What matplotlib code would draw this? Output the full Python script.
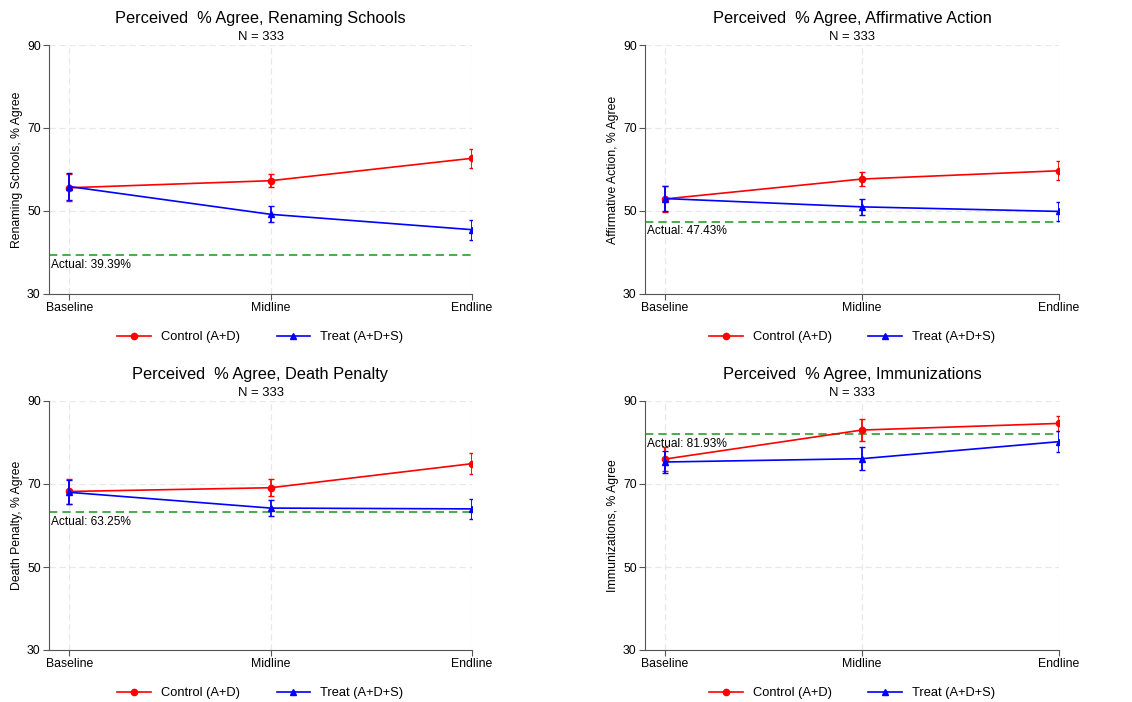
import matplotlib
matplotlib.use("Agg")
import matplotlib.pyplot as plt
from matplotlib.lines import Line2D

plt.rcParams['font.family'] = ['Liberation Sans', 'DejaVu Sans']

waves = ['Baseline', 'Midline', 'Endline']
topics = ['Renaming Schools', 'Affirmative Action', 'Death Penalty', 'Immunizations']
actual = [39.39, 47.43, 63.25, 81.93]

control_mean = [[55.6, 57.3, 62.7], [52.9, 57.7, 59.7], [68.2, 69.1, 74.9], [76.0, 83.0, 84.6]]
control_err  = [[3.2, 1.6, 2.3],    [3.2, 1.7, 2.3],    [2.9, 2.0, 2.6],    [2.8, 2.65, 1.8]]
treat_mean   = [[55.9, 49.2, 45.5], [53.0, 51.0, 49.9], [68.0, 64.2, 64.0], [75.3, 76.1, 80.2]]
treat_err    = [[3.3, 1.9, 2.4],    [3.1, 1.9, 2.3],    [2.9, 1.9, 2.4],    [2.7, 2.8, 2.5]]

N_OBS = 333

W, H = 1132, 702
# axes boxes in pixels: left, right, top, bottom
boxes = [(49, 472, 45, 294), (645, 1059, 45, 294),
         (49, 472, 401, 650), (645, 1059, 401, 650)]

fig = plt.figure(figsize=(W / 100, H / 100), dpi=100)

for i, topic in enumerate(topics):
    l, r, t, b = boxes[i]
    ax = fig.add_axes([l / W, (H - b) / H, (r - l) / W, (b - t) / H])
    x = range(len(waves))

    ax.errorbar(x, control_mean[i], yerr=control_err[i], color='red', marker='o',
                markersize=4.5, capsize=2.5, elinewidth=1.3, lw=1.2, zorder=3)
    ax.errorbar(x, treat_mean[i], yerr=treat_err[i], color='blue', marker='^',
                markersize=4.5, capsize=2.5, elinewidth=1.3, lw=1.2, zorder=4)

    ax.axhline(actual[i], color='#2ca02c', ls=(0, (5, 3)), lw=1.2, zorder=2)
    ax.text(-0.09, actual[i] - 0.9, f'Actual: {actual[i]:.2f}%', fontsize=8.6,
            va='top', ha='left')

    ax.set_xlim(-0.1, 2.0)
    ax.set_ylim(30, 90)
    ax.set_yticks([30, 50, 70, 90])
    ax.set_xticks(list(x))
    ax.set_xticklabels(waves)
    ax.tick_params(labelsize=8.8, length=4, color='#555555', pad=2)
    ax.grid(True, color='#e8e8e8', ls=(0, (5, 3)), lw=0.9)
    ax.set_axisbelow(True)
    for s in ['top', 'right']:
        ax.spines[s].set_visible(False)
    for s in ['left', 'bottom']:
        ax.spines[s].set_color('#555555')
    ax.set_ylabel(f'{topic}, % Agree', fontsize=8.8, labelpad=3)

    ax.text(0.5, 1 + 27 / 249, f'Perceived  % Agree, {topic}', transform=ax.transAxes,
            ha='center', va='center', fontsize=11.8)
    ax.text(0.5, 1 + 8 / 249, f'N = {N_OBS}', transform=ax.transAxes,
            ha='center', va='center', fontsize=9.4)

    handles = [Line2D([], [], color='red', marker='o', markersize=4.5, lw=1.2),
               Line2D([], [], color='blue', marker='^', markersize=4.5, lw=1.2)]
    ax.legend(handles, ['Control (A+D)', 'Treat (A+D+S)'], loc='center',
              bbox_to_anchor=(0.5, -0.173), ncol=2, frameon=False,
              fontsize=9.3, handlelength=2.6, columnspacing=2.8)

fig.savefig('out.png', dpi=100, facecolor='white')
